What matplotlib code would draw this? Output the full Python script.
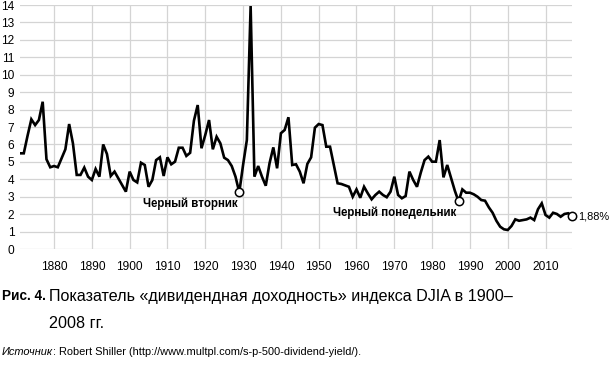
import matplotlib
matplotlib.use("Agg")
import matplotlib.pyplot as plt

# DJIA dividend yield, %
years = list(range(1871, 2018))
yield_1871_1899 = [5.49, 5.49, 6.5, 7.44, 7.11, 7.4, 8.45, 5.15, 4.69, 4.76,
                   4.69, 5.2, 5.72, 7.17, 6.06, 4.25, 4.25, 4.67, 4.15, 3.96,
                   4.59, 4.15, 6.0, 5.45, 4.19, 4.44, 4.06, 3.67, 3.29]
yield_1900_1928 = [4.44, 3.96, 3.82, 4.95, 4.82, 3.57, 3.96, 5.1, 5.26, 4.19,
                   5.26, 4.86, 5.01, 5.81, 5.81, 5.34, 5.52, 7.36, 8.26, 5.78,
                   6.54, 7.4, 5.72, 6.44, 6.06, 5.24, 5.1, 4.76, 4.15]
yield_1929_1956 = [3.25, 4.82, 6.25, 13.94, 4.15, 4.76, 4.15, 3.63, 4.92, 5.83,
                   4.63, 6.64, 6.83, 7.56, 4.82, 4.86, 4.44, 3.77, 4.88, 5.26,
                   6.96, 7.17, 7.11, 5.87, 5.87, 4.82, 3.77, 3.73]
yield_1957_1986 = [3.65, 3.57, 3.0, 3.42, 2.94, 3.57, 3.19, 2.85, 3.1, 3.29,
                   3.1, 2.97, 3.29, 4.15, 3.1, 2.91, 3.04, 4.44, 3.96, 3.57,
                   4.38, 5.1, 5.3, 5.01, 5.01, 6.25, 4.11, 4.82, 4.09, 3.35]
yield_1987_2017 = [2.73, 3.42, 3.23, 3.23, 3.14, 3.0, 2.81, 2.77, 2.39, 2.08,
                   1.62, 1.28, 1.13, 1.09, 1.32, 1.7, 1.62, 1.66, 1.7, 1.8,
                   1.66, 2.28, 2.62, 1.95, 1.8, 2.08, 2.01, 1.85, 2.01, 2.05,
                   1.88]
div_yield = (yield_1871_1899 + yield_1900_1928 + yield_1929_1956
             + yield_1957_1986 + yield_1987_2017)

x_ticks = list(range(1880, 2011, 10))
y_ticks = list(range(0, 15))

events = [(1929, "Черный вторник"), (1987, "Черный понедельник")]
last_label = "1,88%"

caption_num = "Рис. 4."
caption_line1 = "Показатель «дивидендная доходность» индекса DJIA в 1900–"
caption_line2 = "2008 гг."
source_head = "Источник"
source_tail = ": Robert Shiller (http://www.multpl.com/s-p-500-dividend-yield/)."

plt.rcParams['font.family'] = ['Liberation Sans', 'DejaVu Sans']

W, H = 610, 367
fig = plt.figure(figsize=(W / 100, H / 100), dpi=100)
ax = fig.add_axes([20 / W, 1 - 249 / H, (572 - 20) / W, (249 - 5) / H])

ax.plot(years, div_yield, color='black', lw=1.9, solid_joinstyle='miter', zorder=3)
ax.set_xlim(1871, 2017)
ax.set_ylim(0, 14)
ax.set_xticks(x_ticks)
ax.set_yticks(y_ticks)
ax.tick_params(length=0, colors='black', labelsize=8.6)
ax.tick_params(axis='y', pad=4)
ax.tick_params(axis='x', pad=9)
ax.grid(True, color='#d4d4d4', lw=0.9)
ax.set_axisbelow(True)
for s in ax.spines.values():
    s.set_visible(False)

for yr, label in events:
    val = div_yield[years.index(yr)]
    ax.plot(yr, val, 'o', ms=6, mfc='white', mec='black', mew=1.1, zorder=4, clip_on=False)
    ax.annotate(label, (yr, val), xytext=(-1.5, -8), textcoords='offset points',
                ha='right', va='center', fontsize=8.3, fontweight='bold')

ax.plot(years[-1], div_yield[-1], 'o', ms=6, mfc='white', mec='black', mew=1.1,
        zorder=4, clip_on=False)
ax.annotate(last_label, (years[-1], div_yield[-1]), xytext=(4.5, 0),
            textcoords='offset points', ha='left', va='center',
            fontsize=7.9, annotation_clip=False)

fig.text(2 / W, 1 - 296 / H, caption_num, fontsize=9.8, fontweight='bold',
         va='center', ha='left')
fig.text(49 / W, 1 - 296 / H, caption_line1, fontsize=11.6, va='center', ha='left')
fig.text(49 / W, 1 - 323 / H, caption_line2, fontsize=11.6, va='center', ha='left')
src_head = fig.text(2 / W, 1 - 352 / H, source_head, fontsize=7.9, style='italic',
                    va='center', ha='left')
fig.canvas.draw()
bb = src_head.get_window_extent()
fig.text(bb.x1 / W, 1 - 352 / H, source_tail, fontsize=7.9, va='center', ha='left')

fig.savefig("out.png", dpi=100)
